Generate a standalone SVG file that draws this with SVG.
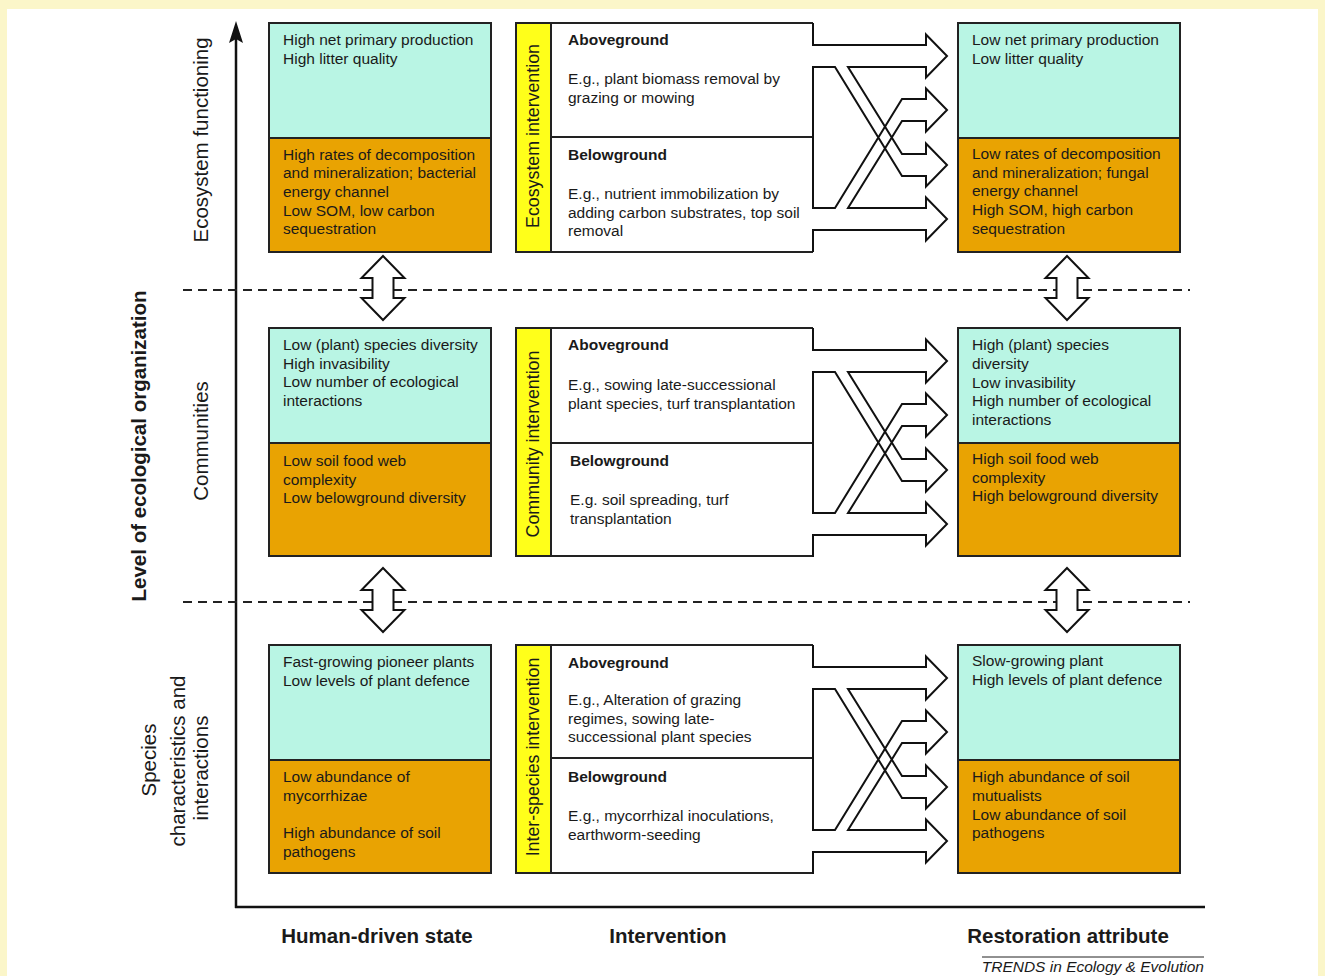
<svg xmlns="http://www.w3.org/2000/svg" width="1325" height="976" viewBox="0 0 1325 976">
<style>
text{font-family:"Liberation Sans",Arial,sans-serif;fill:#1a1a1a}
.t{font-size:15.5px}
.b{font-size:15.5px;font-weight:bold}
.vl{font-size:17.8px}
.side{font-size:20.5px}
.col{font-size:20.5px;font-weight:bold;text-anchor:middle}
.cy{fill:#b9f5e4}
.or{fill:#e9a302}
.frame{fill:none;stroke:#222;stroke-width:2}
.ye{fill:#ffff1a;stroke:#222;stroke-width:2}
.arr{fill:none;stroke:#111;stroke-width:2;stroke-linejoin:miter}
.dbl{fill:#fff;stroke:#111;stroke-width:2}
.dash{stroke:#222;stroke-width:2;stroke-dasharray:9 6}
</style>
<defs>
<path id="dblarrow" d="M0,-32 L21.5,-10 H10.5 V10 H21.5 L0,32 L-21.5,10 H-10.5 V-10 H-21.5 Z"/>
<path id="cross" d="M813,0 V22 H926 V11.5 L947,33 L926,54.5 V44 H848 L902,131 H926 V120.5 L947,142 L926,163.5 V153 H902 L835,44 H813 V185 H835 L902,76 H926 V65.5 L947,87 L926,108.5 V98 H902 L848,185 H926 V174.5 L947,196 L926,217.5 V207 H813 V229"/>
</defs>
<rect x="0" y="0" width="1325" height="976" fill="#fbf6c9"/>
<rect x="7" y="9" width="1311" height="967" fill="#ffffff"/>

<g id="axes">
<line x1="236" y1="36" x2="236" y2="908" stroke="#111" stroke-width="2.5"/>
<line x1="235" y1="907" x2="1205" y2="907" stroke="#111" stroke-width="2.5"/>
<path d="M236,21 L243,43 L236,39 L229,43 Z" fill="#111"/>
</g>

<g id="dashes">
<line class="dash" x1="183" y1="290" x2="1190" y2="290"/>
<line class="dash" x1="183" y1="602" x2="1190" y2="602"/>
</g>

<g id="side-labels">
<text class="side" font-weight="bold" text-anchor="middle" transform="translate(146,446) rotate(-90)">Level of ecological organization</text>
<text class="side" text-anchor="middle" transform="translate(208,140) rotate(-90)">Ecosystem functioning</text>
<text class="side" text-anchor="middle" transform="translate(208,441) rotate(-90)">Communities</text>
<text class="side" text-anchor="middle" transform="translate(156,760) rotate(-90)">Species</text>
<text class="side" text-anchor="middle" transform="translate(185,761) rotate(-90)">characteristics and</text>
<text class="side" text-anchor="middle" transform="translate(208,768) rotate(-90)">interactions</text>
</g>

<!-- Human-driven state boxes -->
<g id="state-eco">
<rect class="cy" x="269" y="23" width="222" height="115"/>
<rect class="or" x="269" y="138" width="222" height="114"/>
<rect class="frame" x="269" y="23" width="222" height="229"/>
<line class="frame" x1="269" y1="138" x2="491" y2="138"/>
<text class="t" x="283" y="45">High net primary production</text>
<text class="t" x="283" y="64">High litter quality</text>
<text class="t" x="283" y="160">High rates of decomposition</text>
<text class="t" x="283" y="178">and mineralization; bacterial</text>
<text class="t" x="283" y="197">energy channel</text>
<text class="t" x="283" y="216">Low SOM, low carbon</text>
<text class="t" x="283" y="234">sequestration</text>
</g>
<g id="state-com">
<rect class="cy" x="269" y="328" width="222" height="115"/>
<rect class="or" x="269" y="443" width="222" height="113"/>
<rect class="frame" x="269" y="328" width="222" height="228"/>
<line class="frame" x1="269" y1="443" x2="491" y2="443"/>
<text class="t" x="283" y="350">Low (plant) species diversity</text>
<text class="t" x="283" y="369">High invasibility</text>
<text class="t" x="283" y="387">Low number of ecological</text>
<text class="t" x="283" y="406">interactions</text>
<text class="t" x="283" y="466">Low soil food web</text>
<text class="t" x="283" y="485">complexity</text>
<text class="t" x="283" y="503">Low belowground diversity</text>
</g>
<g id="state-spe">
<rect class="cy" x="269" y="645" width="222" height="115"/>
<rect class="or" x="269" y="760" width="222" height="113"/>
<rect class="frame" x="269" y="645" width="222" height="228"/>
<line class="frame" x1="269" y1="760" x2="491" y2="760"/>
<text class="t" x="283" y="667">Fast-growing pioneer plants</text>
<text class="t" x="283" y="686">Low levels of plant defence</text>
<text class="t" x="283" y="782">Low abundance of</text>
<text class="t" x="283" y="801">mycorrhizae</text>
<text class="t" x="283" y="838">High abundance of soil</text>
<text class="t" x="283" y="857">pathogens</text>
</g>

<!-- Intervention boxes -->
<g id="int-eco">
<rect x="516" y="23" width="297" height="229" fill="#fff"/>
<rect class="ye" x="516" y="23" width="35" height="229"/>
<path class="frame" d="M813,23 H516 V252 H813"/>
<line class="frame" x1="551" y1="137" x2="813" y2="137"/>
<text class="vl" text-anchor="middle" transform="translate(539,136) rotate(-90)">Ecosystem intervention</text>
<text class="b" x="568" y="45">Aboveground</text>
<text class="t" x="568" y="84">E.g., plant biomass removal by</text>
<text class="t" x="568" y="103">grazing or mowing</text>
<text class="b" x="568" y="160">Belowground</text>
<text class="t" x="568" y="199">E.g., nutrient immobilization by</text>
<text class="t" x="568" y="218">adding carbon substrates, top soil</text>
<text class="t" x="568" y="236">removal</text>
</g>
<g id="int-com">
<rect x="516" y="328" width="297" height="228" fill="#fff"/>
<rect class="ye" x="516" y="328" width="35" height="228"/>
<path class="frame" d="M813,328 H516 V556 H813"/>
<line class="frame" x1="551" y1="443" x2="813" y2="443"/>
<text class="vl" text-anchor="middle" transform="translate(539,444) rotate(-90)">Community intervention</text>
<text class="b" x="568" y="350">Aboveground</text>
<text class="t" x="568" y="390">E.g., sowing late-successional</text>
<text class="t" x="568" y="409">plant species, turf transplantation</text>
<text class="b" x="570" y="466">Belowground</text>
<text class="t" x="570" y="505">E.g. soil spreading, turf</text>
<text class="t" x="570" y="524">transplantation</text>
</g>
<g id="int-spe">
<rect x="516" y="645" width="297" height="228" fill="#fff"/>
<rect class="ye" x="516" y="645" width="35" height="228"/>
<path class="frame" d="M813,645 H516 V873 H813"/>
<line class="frame" x1="551" y1="758" x2="813" y2="758"/>
<text class="vl" text-anchor="middle" transform="translate(539,757) rotate(-90)">Inter-species intervention</text>
<text class="b" x="568" y="668">Aboveground</text>
<text class="t" x="568" y="705">E.g., Alteration of grazing</text>
<text class="t" x="568" y="724">regimes, sowing late-</text>
<text class="t" x="568" y="742">successional plant species</text>
<text class="b" x="568" y="782">Belowground</text>
<text class="t" x="568" y="821">E.g., mycorrhizal inoculations,</text>
<text class="t" x="568" y="840">earthworm-seeding</text>
</g>

<!-- Restoration attribute boxes -->
<g id="rest-eco">
<rect class="cy" x="958" y="23" width="222" height="115"/>
<rect class="or" x="958" y="138" width="222" height="114"/>
<rect class="frame" x="958" y="23" width="222" height="229"/>
<line class="frame" x1="958" y1="138" x2="1180" y2="138"/>
<text class="t" x="972" y="45">Low net primary production</text>
<text class="t" x="972" y="64">Low litter quality</text>
<text class="t" x="972" y="159">Low rates of decomposition</text>
<text class="t" x="972" y="178">and mineralization; fungal</text>
<text class="t" x="972" y="196">energy channel</text>
<text class="t" x="972" y="215">High SOM, high carbon</text>
<text class="t" x="972" y="234">sequestration</text>
</g>
<g id="rest-com">
<rect class="cy" x="958" y="328" width="222" height="115"/>
<rect class="or" x="958" y="443" width="222" height="113"/>
<rect class="frame" x="958" y="328" width="222" height="228"/>
<line class="frame" x1="958" y1="443" x2="1180" y2="443"/>
<text class="t" x="972" y="350">High (plant) species</text>
<text class="t" x="972" y="369">diversity</text>
<text class="t" x="972" y="388">Low invasibility</text>
<text class="t" x="972" y="406">High number of ecological</text>
<text class="t" x="972" y="425">interactions</text>
<text class="t" x="972" y="464">High soil food web</text>
<text class="t" x="972" y="483">complexity</text>
<text class="t" x="972" y="501">High belowground diversity</text>
</g>
<g id="rest-spe">
<rect class="cy" x="958" y="645" width="222" height="115"/>
<rect class="or" x="958" y="760" width="222" height="113"/>
<rect class="frame" x="958" y="645" width="222" height="228"/>
<line class="frame" x1="958" y1="760" x2="1180" y2="760"/>
<text class="t" x="972" y="666">Slow-growing plant</text>
<text class="t" x="972" y="685">High levels of plant defence</text>
<text class="t" x="972" y="782">High abundance of soil</text>
<text class="t" x="972" y="801">mutualists</text>
<text class="t" x="972" y="820">Low abundance of soil</text>
<text class="t" x="972" y="838">pathogens</text>
</g>

<g id="connectors">
<use href="#cross" class="arr" transform="translate(0,23)"/>
<use href="#cross" class="arr" transform="translate(0,328)"/>
<use href="#cross" class="arr" transform="translate(0,645)"/>
<use href="#dblarrow" class="dbl" transform="translate(383,288)"/>
<use href="#dblarrow" class="dbl" transform="translate(1067,288)"/>
<use href="#dblarrow" class="dbl" transform="translate(383,600)"/>
<use href="#dblarrow" class="dbl" transform="translate(1067,600)"/>
</g>

<g id="column-labels">
<text class="col" x="377" y="943">Human-driven state</text>
<text class="col" x="668" y="943">Intervention</text>
<text class="col" x="1068" y="943">Restoration attribute</text>
<line x1="982" y1="957" x2="1204" y2="957" stroke="#222" stroke-width="1"/>
<text x="1204" y="972" font-size="15.5" font-style="italic" text-anchor="end">TRENDS in Ecology &amp; Evolution</text>
</g>
</svg>
